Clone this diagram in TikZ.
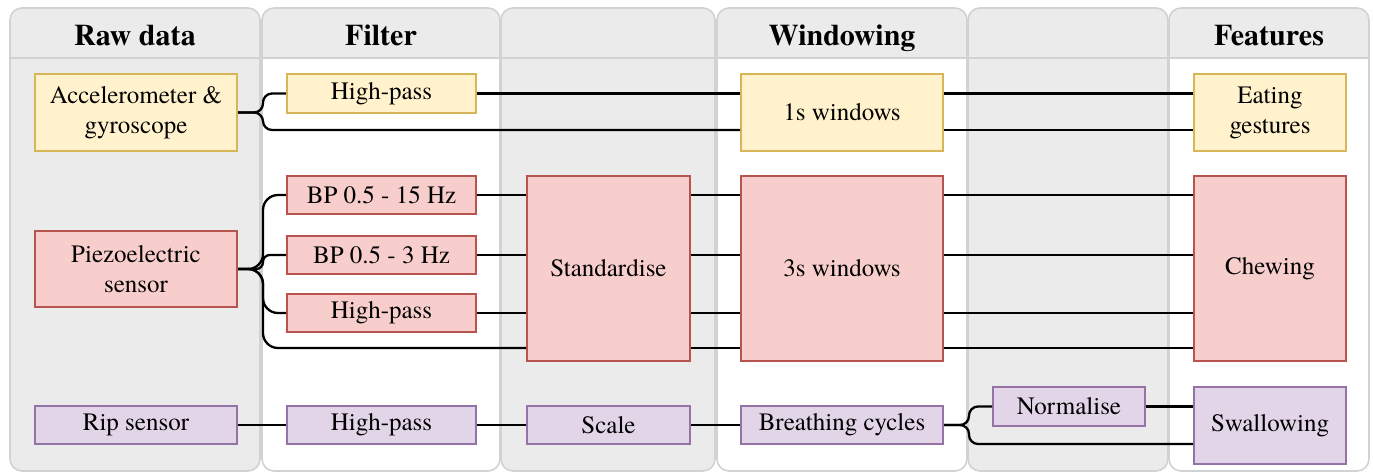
\documentclass[tikz,border=0pt]{standalone}
\usepackage{fontspec}
\setmainfont{texgyretermes}[Extension=.otf, UprightFont=*-regular, BoldFont=*-bold, ItalicFont=*-italic, BoldItalicFont=*-bolditalic]
\definecolor{yf}{HTML}{FFF2CC}\definecolor{ys}{HTML}{D6B656}
\definecolor{rf}{HTML}{F8CECC}\definecolor{rs}{HTML}{B85450}
\definecolor{pf}{HTML}{E1D5E7}\definecolor{ps}{HTML}{9673A6}
\definecolor{lanegray}{HTML}{EBEBEB}\definecolor{lanestroke}{HTML}{D2D2D2}
\newcommand\mylane[3]{%
  \fill[#3, rounded corners=6pt] (#1,8) rectangle (#2,471);
  \begin{scope}
    \clip[rounded corners=6pt] (#1,8) rectangle (#2,471);
    \fill[lanegray] (#1,8) rectangle (#2,58);
  \end{scope}
  \draw[lanestroke, line width=0.8pt, rounded corners=6pt] (#1,8) rectangle (#2,471);
  \draw[lanestroke, line width=0.8pt] (#1,58) -- (#2,58);
}
\tikzset{
  lanetitle/.style={anchor=base, inner sep=0pt, font=\fontsize{15}{17}\selectfont\bfseries},
  box/.style={draw, line width=1pt, inner sep=0pt, align=center, anchor=north west, font=\fontsize{12.5}{15}\selectfont},
  yb/.style={box, fill=yf, draw=ys},
  rb/.style={box, fill=rf, draw=rs},
  pb/.style={box, fill=pf, draw=ps},
  conn/.style={line width=1.15pt, rounded corners=4.5pt},
  bigturn/.style={rounded corners=7.5pt},
  smallturn/.style={rounded corners=3.4pt}
}
\begin{document}
\begin{tikzpicture}[x=0.5pt,y=-0.5pt]
\useasboundingbox (0,0) rectangle (1373,472);
\mylane{10}{260}{lanegray}
\mylane{262}{500}{white}
\mylane{501}{715}{lanegray}
\mylane{717}{967}{white}
\mylane{968}{1168}{lanegray}
\mylane{1169}{1369}{white}
\node[lanetitle] (t1) at (135,45) {Raw data};
\node[lanetitle] (t2) at (381,45) {Filter};
\node[lanetitle] (t4) at (842,45) {Windowing};
\node[lanetitle] (t6) at (1269,45) {Features};

\node[yb, minimum width=101pt, minimum height=38.5pt] (acc) at (34,73) {Accelerometer \&\\gyroscope};
\node[yb, minimum width=94.5pt, minimum height=19.5pt] (hpa) at (286,73) {High-pass};
\node[yb, minimum width=101pt, minimum height=38.5pt] (w1) at (740,73) {1s windows};
\node[yb, minimum width=76pt, minimum height=38.5pt] (eat) at (1193,73) {Eating\\gestures};

\node[rb, minimum width=94.5pt, minimum height=19pt] (bp15) at (286,175) {BP 0.5 - 15 Hz};
\node[rb, minimum width=94.5pt, minimum height=19pt] (bp3) at (286,235) {BP 0.5 - 3 Hz};
\node[rb, minimum width=94.5pt, minimum height=19pt] (hpr) at (286,293) {High-pass};
\node[rb, minimum width=101pt, minimum height=38pt] (piezo) at (34,230) {Piezoelectric\\sensor};
\node[rb, minimum width=81.5pt, minimum height=92.5pt] (std) at (526,175) {Standardise};
\node[rb, minimum width=101pt, minimum height=92.5pt] (w3) at (740,175) {3s windows};
\node[rb, minimum width=76pt, minimum height=92.5pt] (chew) at (1193,175) {Chewing};

\node[pb, minimum width=101pt, minimum height=19pt] (rip) at (34,405) {Rip sensor};
\node[pb, minimum width=94.5pt, minimum height=19pt] (hpp) at (286,405) {High-pass};
\node[pb, minimum width=81.5pt, minimum height=19pt] (scale) at (526,405) {Scale};
\node[pb, minimum width=101pt, minimum height=19pt] (breath) at (740,405) {Breathing cycles};
\node[pb, minimum width=76pt, minimum height=19.5pt] (norm) at (992,386) {Normalise};
\node[pb, minimum width=76pt, minimum height=38.5pt] (swal) at (1193,386) {Swallowing};

\coordinate (ya) at (0,130);
\coordinate (r4) at (0,348);
\coordinate (yb2) at (0,444);

% accelerometer
\draw[conn] (acc.east) -- ++(25,0) |- (hpa.west);
\draw[conn] (acc.east) -- ++(25,0) |- (w1.west |- ya);
\draw[conn] (hpa.east) -- (w1.west |- hpa.east);
\draw[conn] (w1.east |- hpa.east) -- (eat.west |- hpa.east);
\draw[conn] (w1.east |- ya) -- (eat.west |- ya);

% piezo
\draw[conn, bigturn] (piezo.east) -- ++(25,0) |- (bp15.west);
\draw[conn, smallturn] (piezo.east) -- ++(25,0) |- (bp3.west);
\draw[conn, bigturn] (piezo.east) -- ++(25,0) |- (hpr.west);
\draw[conn, bigturn] (piezo.east) -- ++(25,0) |- (std.west |- r4);
\foreach \t in {bp15,bp3,hpr}{
  \draw[conn] (\t.east) -- (std.west |- \t.east);
  \draw[conn] (std.east |- \t.east) -- (w3.west |- \t.east);
  \draw[conn] (w3.east |- \t.east) -- (chew.west |- \t.east);
}
\draw[conn] (std.east |- r4) -- (w3.west |- r4);
\draw[conn] (w3.east |- r4) -- (chew.west |- r4);

% rip
\draw[conn] (rip) -- (hpp);
\draw[conn] (hpp) -- (scale);
\draw[conn] (scale) -- (breath);
\draw[conn] (breath.east) -- ++(25,0) |- (norm.west);
\draw[conn] (breath.east) -- ++(25,0) |- (swal.west |- yb2);
\draw[conn] (norm.east) -- (swal.west |- norm.east);
\end{tikzpicture}
\end{document}
